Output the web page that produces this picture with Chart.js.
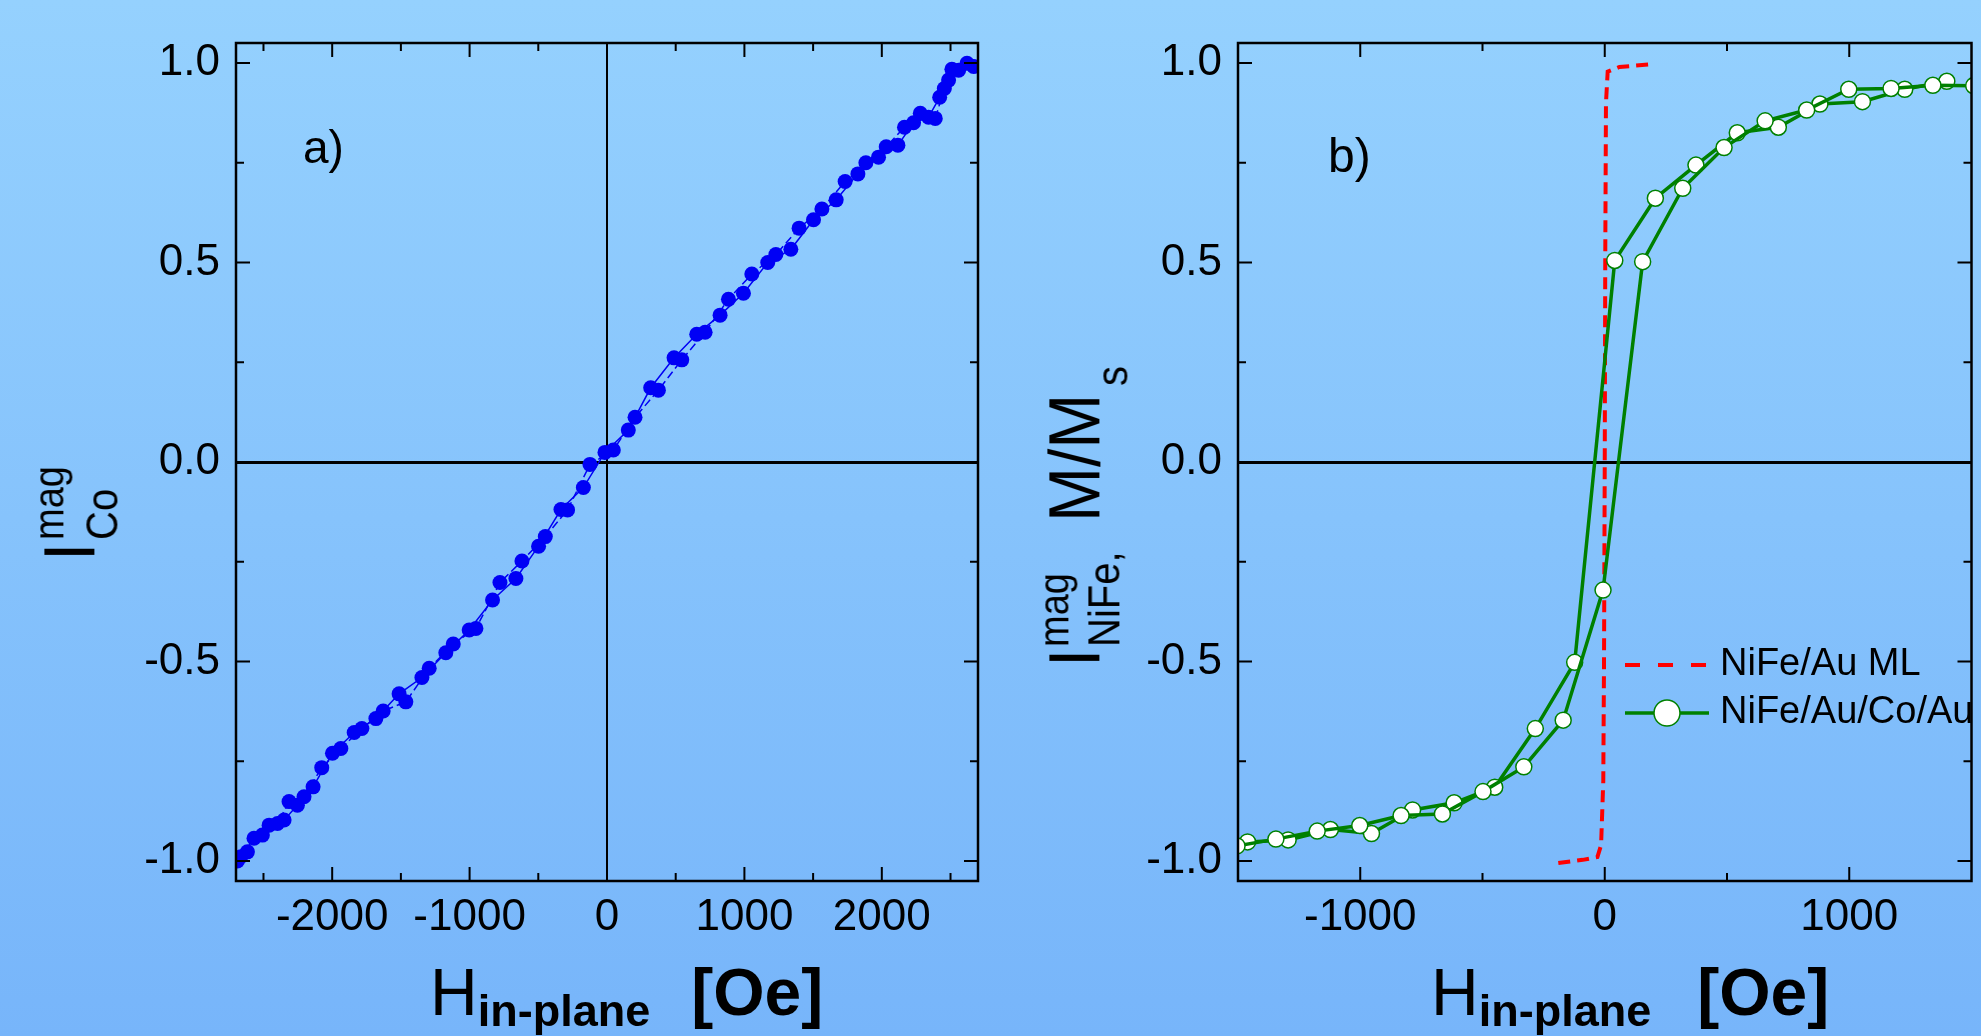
<!DOCTYPE html>
<html>
<head>
<meta charset="utf-8">
<script src="https://cdn.jsdelivr.net/npm/chart.js@4.4.1/dist/chart.umd.min.js"></script>
<style>
  html, body { margin: 0; padding: 0; }
  body {
    width: 1981px; height: 1036px; overflow: hidden; position: relative;
    background: linear-gradient(to bottom, #95d1fe 0%, #86c3fc 50%, #77b5fa 100%);
    font-family: "Liberation Sans", Arial, sans-serif; color: #000;
  }
  .panel { position: absolute; top: 0; height: 1036px; }
  .txt { position: absolute; white-space: nowrap; line-height: 1; }
  .yt { position: absolute; width: 400px; height: 100px; transform-origin: 0 0; transform: rotate(-90deg) scale(1, 1.1); }
  .yt span { position: absolute; white-space: nowrap; line-height: 1; }
</style>
</head>
<body>

<div class="panel" style="left:0; width:1000px;"><canvas id="coChart"></canvas></div>
<div class="panel" style="left:1000px; width:981px;"><canvas id="nifeChart"></canvas></div>

<!-- panel letters -->
<div class="txt" style="left:303px; top:124px; font-size:46px;">a)</div>
<div class="txt" style="left:1328px; top:132px; font-size:48px;">b)</div>

<!-- x axis titles -->
<div class="txt" style="left:430px; top:959px; font-size:66px;">H<span style="font-size:45px; font-weight:bold; vertical-align:-11px;">in-plane</span><b style="margin-left:41px;">[Oe]</b></div>
<div class="txt" style="left:1431px; top:959px; font-size:66px;">H<span style="font-size:45px; font-weight:bold; vertical-align:-11px;">in-plane</span><b style="margin-left:46px;">[Oe]</b></div>

<!-- y axis titles (rotated) -->
<div class="yt" style="left:33px; top:561px;">
  <span style="left:0; top:0; font-size:66px;">I</span>
  <span style="left:21px; top:-4px; font-size:38px;">mag</span>
  <span style="left:21px; top:43px; font-size:40px;">Co</span>
</div>
<div class="yt" style="left:1038px; top:667px;">
  <span style="left:0; top:0; font-size:66px;">I</span>
  <span style="left:20px; top:-4px; font-size:38px;">mag</span>
  <span style="left:20px; top:40px; font-size:40px;">NiFe,</span>
  <span style="left:145px; top:0; font-size:66px;">M/M</span>
  <span style="left:281px; top:47px; font-size:40px;">s</span>
</div>

<script>
// ---- data: panel a) Co signal, two field sweeps
const coFieldA = [-2666, -2569, -2459, -2350, -2253, -2139, -1998, -1840, -1682, -1513, -1347, -1173, -1003, -833, -663, -498, -335, -172, -15, 155, 318, 488, 653, 823, 993, 1170, 1338, 1503, 1668, 1826, 1976, 2117, 2231, 2340, 2421, 2486, 2559, 2668];
const coMagA   = [-0.989, -0.943, -0.910, -0.897, -0.860, -0.814, -0.730, -0.678, -0.643, -0.581, -0.540, -0.478, -0.421, -0.346, -0.292, -0.211, -0.119, -0.064, 0.024, 0.080, 0.186, 0.261, 0.320, 0.368, 0.423, 0.500, 0.533, 0.607, 0.657, 0.722, 0.764, 0.794, 0.850, 0.864, 0.914, 0.957, 0.982, 0.991];
const coFieldB = [-2690, -2617, -2508, -2398, -2314, -2205, -2076, -1937, -1784, -1629, -1464, -1294, -1119, -954, -779, -619, -449, -287, -124, 46, 204, 374, 544, 714, 884, 1054, 1229, 1398, 1564, 1733, 1884, 2032, 2165, 2280, 2389, 2455, 2510, 2620];
const coMagB   = [-1.000, -0.977, -0.935, -0.906, -0.851, -0.839, -0.766, -0.718, -0.668, -0.624, -0.601, -0.517, -0.456, -0.417, -0.302, -0.248, -0.187, -0.120, -0.006, 0.030, 0.112, 0.180, 0.256, 0.325, 0.408, 0.471, 0.520, 0.586, 0.634, 0.703, 0.750, 0.790, 0.839, 0.874, 0.861, 0.936, 0.984, 0.999];

// ---- data: panel b) NiFe signal
const mlField = [-190, -90, -30, -15, -6, -3, 0, 2, 5, 12, 60, 120, 200];
const mlMag   = [-1.005, -0.997, -0.99, -0.96, -0.8, -0.5, 0, 0.5, 0.9, 0.978, 0.99, 0.993, 0.997];

const coAuFieldUp = [-1504, -1345, -1176, -1002, -833, -664, -498, -331, -170, -7, 155, 319, 488, 656, 826, 998, 1171, 1342, 1509];
const coAuMagUp   = [-0.962, -0.945, -0.925, -0.911, -0.886, -0.882, -0.826, -0.764, -0.647, -0.321, 0.502, 0.686, 0.788, 0.855, 0.882, 0.934, 0.936, 0.944, 0.943];
const coAuFieldDown = [-1461, -1295, -1122, -954, -786, -616, -450, -284, -123, 41, 207, 373, 542, 710, 880, 1054, 1227, 1399];
const coAuMagDown   = [-0.952, -0.947, -0.921, -0.931, -0.872, -0.854, -0.815, -0.668, -0.502, 0.505, 0.661, 0.744, 0.825, 0.839, 0.897, 0.903, 0.934, 0.954];

// ---- ticks
const yTicks = [-1, -0.5, 0, 0.5, 1];
const yTickLabels = ['-1.0', '-0.5', '0.0', '0.5', '1.0'];
const yMinor = [-0.75, -0.25, 0.25, 0.75];
const coXTicks = [-2000, -1000, 0, 1000, 2000];
const coXTickLabels = ['-2000', '-1000', '0', '1000', '2000'];
const coXMinor = [-2500, -1500, -500, 500, 1500, 2500];
const nifeXTicks = [-1000, 0, 1000];
const nifeXTickLabels = ['-1000', '0', '1000'];
const nifeXMinor = [-500, 500];

const pts = (xs, ys) => xs.map((x, i) => ({ x: x, y: ys[i] }));
const tickFont = { family: '"Liberation Sans", Arial, sans-serif', size: 44 };

// frame, inward ticks and an in-plot legend
const frameTicks = {
  id: 'frameTicks',
  afterDraw(chart, args, opts) {
    const ctx = chart.ctx;
    const a = chart.chartArea;
    const xs = chart.scales.x, ys = chart.scales.y;
    ctx.save();
    ctx.strokeStyle = '#000';
    ctx.lineWidth = 2;
    const tick = (vals, len) => {
      vals.forEach(v => {
        const px = xs.getPixelForValue(v);
        ctx.beginPath();
        ctx.moveTo(px, a.bottom); ctx.lineTo(px, a.bottom - len);
        ctx.moveTo(px, a.top); ctx.lineTo(px, a.top + len);
        ctx.stroke();
      });
    };
    const ytick = (vals, len) => {
      vals.forEach(v => {
        const py = ys.getPixelForValue(v);
        ctx.beginPath();
        ctx.moveTo(a.left, py); ctx.lineTo(a.left + len, py);
        ctx.moveTo(a.right, py); ctx.lineTo(a.right - len, py);
        ctx.stroke();
      });
    };
    tick(opts.xMajor, 14); tick(opts.xMinor, 8);
    ytick(yTicks, 14); ytick(yMinor, 8);
    ctx.lineWidth = 2.5;
    ctx.strokeRect(a.left, a.top, a.right - a.left, a.bottom - a.top);

    if (opts.legend) {
      const L = opts.legend;
      let y = L.y;
      chart.data.datasets.forEach(ds => {
        if (!ds.label) return;
        ctx.save();
        ctx.strokeStyle = ds.borderColor;
        ctx.lineWidth = ds.borderWidth;
        ctx.setLineDash(ds.borderDash ? L.dash : []);
        ctx.beginPath();
        ctx.moveTo(L.x, y); ctx.lineTo(L.x + L.len, y);
        ctx.stroke();
        if (ds.pointRadius > 0) {
          ctx.setLineDash([]);
          ctx.beginPath();
          ctx.arc(L.x + L.len / 2, y, L.markerR, 0, Math.PI * 2);
          ctx.fillStyle = ds.pointBackgroundColor;
          ctx.fill();
          ctx.lineWidth = ds.pointBorderWidth;
          ctx.strokeStyle = ds.pointBorderColor;
          ctx.stroke();
        }
        ctx.fillStyle = '#000';
        ctx.font = L.font;
        ctx.textBaseline = 'middle';
        ctx.fillText(ds.label, L.textX, y);
        ctx.restore();
        y += L.gap;
      });
    }
    ctx.restore();
  }
};

function axes(xMin, xMax, xTicks, xLabels, yWidth, zeroX) {
  return {
    x: {
      type: 'linear', min: xMin, max: xMax,
      afterBuildTicks: s => { s.ticks = xTicks.map(v => ({ value: v })); },
      afterFit: s => { s.height = 155; },
      ticks: { callback: (v, i) => xLabels[i], font: tickFont, color: '#000', padding: 10, maxRotation: 0, autoSkip: false },
      grid: { drawTicks: false, lineWidth: 2, color: c => (zeroX && c.tick && c.tick.value === 0) ? '#000' : 'rgba(0,0,0,0)' },
      border: { display: false }
    },
    y: {
      type: 'linear', min: -1.05, max: 1.05,
      afterBuildTicks: s => { s.ticks = yTicks.map(v => ({ value: v })); },
      afterFit: s => { s.width = yWidth; },
      ticks: { callback: (v, i) => yTickLabels[i], font: tickFont, color: '#000', padding: 16, autoSkip: false },
      grid: { drawTicks: false, lineWidth: 3, color: c => (c.tick && c.tick.value === 0) ? '#000' : 'rgba(0,0,0,0)' },
      border: { display: false }
    }
  };
}

new Chart(document.getElementById('coChart'), {
  type: 'scatter',
  data: {
    datasets: [
      { data: pts(coFieldA, coMagA), showLine: true, borderColor: '#0000f5', borderWidth: 1.5,
        pointRadius: 7.5, pointBackgroundColor: '#0000f5', pointBorderWidth: 0, pointHoverRadius: 7.5 },
      { data: pts(coFieldB, coMagB), showLine: true, borderColor: '#0000f5', borderWidth: 1.5, borderDash: [8, 4],
        pointRadius: 7.5, pointBackgroundColor: '#0000f5', pointBorderWidth: 0, pointHoverRadius: 7.5 }
    ]
  },
  options: {
    responsive: true, maintainAspectRatio: false, animation: false,
    layout: { padding: { top: 43, right: 22, left: 0, bottom: 0 } },
    scales: axes(-2700, 2700, coXTicks, coXTickLabels, 236, true),
    plugins: {
      legend: { display: false }, tooltip: { enabled: false },
      frameTicks: { xMajor: coXTicks, xMinor: coXMinor }
    }
  },
  plugins: [frameTicks]
});

new Chart(document.getElementById('nifeChart'), {
  type: 'scatter',
  data: {
    datasets: [
      // order: red curve sits behind the green markers
      { label: 'NiFe/Au ML', data: pts(mlField, mlMag), showLine: true, borderColor: '#ff0000', borderWidth: 4,
        borderDash: [12, 7], pointRadius: 0, order: 3 },
      { label: 'NiFe/Au/Co/Au', data: pts(coAuFieldUp, coAuMagUp), showLine: true, borderColor: '#008000', borderWidth: 3.5,
        pointRadius: 8, pointBackgroundColor: '#ffffff', pointBorderColor: '#008000', pointBorderWidth: 1.5, pointHoverRadius: 8, order: 1 },
      { label: '', data: pts(coAuFieldDown, coAuMagDown), showLine: true, borderColor: '#008000', borderWidth: 3.5,
        pointRadius: 8, pointBackgroundColor: '#ffffff', pointBorderColor: '#008000', pointBorderWidth: 1.5, pointHoverRadius: 8, order: 2 }
    ]
  },
  options: {
    responsive: true, maintainAspectRatio: false, animation: false,
    layout: { padding: { top: 43, right: 2, left: 0, bottom: 0 } },
    scales: axes(-1500, 1500, nifeXTicks, nifeXTickLabels, 238, false),
    plugins: {
      legend: { display: false }, tooltip: { enabled: false },
      frameTicks: {
        xMajor: nifeXTicks, xMinor: nifeXMinor,
        legend: { x: 625, len: 84, textX: 720, y: 665, gap: 48, markerR: 13, dash: [15, 18],
          font: '38px "Liberation Sans", Arial, sans-serif' }
      }
    }
  },
  plugins: [frameTicks]
});
</script>
</body>
</html>
